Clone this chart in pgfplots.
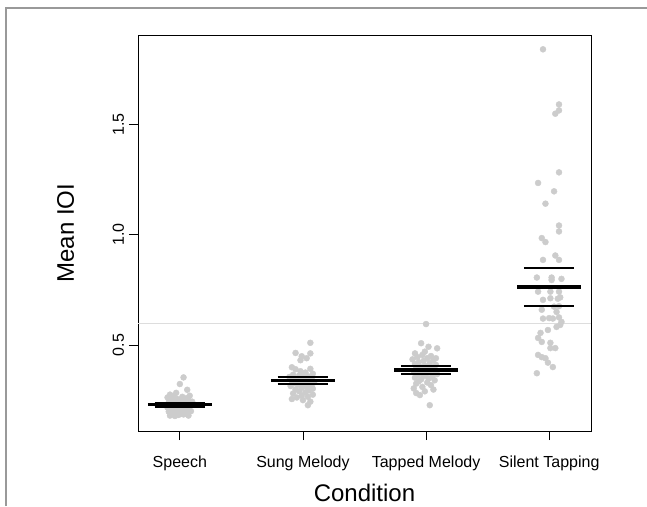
\documentclass[border=0pt]{standalone}
\usepackage{fontspec}
\setmainfont{Liberation Sans}
\usepackage{pgfplots}
\pgfplotsset{compat=1.18}
\definecolor{dotgray}{HTML}{CCCCCC}
\definecolor{refgray}{HTML}{DDDDDD}
\definecolor{framegray}{HTML}{999999}
\begin{document}
\begin{tikzpicture}[x=1pt,y=1pt]
\useasboundingbox (0,0) rectangle (647,506);
\draw[framegray, line width=1.2pt] (6,0) -- (6,498) -- (647,498);
\begin{axis}[
    at={(138pt,75pt)}, anchor=south west,
    scale only axis, width=453pt, height=396pt,
    xmin=0.66, xmax=4.34, ymin=0.11, ymax=1.906,
    axis line style={black, line width=0.8pt},
    xtick={1,2,3,4},
    xticklabels={Speech, Sung Melody, Tapped Melody, Silent Tapping},
    ytick={0.5,1.0,1.5}, yticklabels={0.5,1.0,1.5},
    xtick pos=bottom, ytick pos=left,
    tick align=outside, major tick length=9pt,
    tick style={black, line width=0.8pt},
    tick label style={font=\fontsize{16}{19}\selectfont},
    xticklabel style={anchor=base, yshift=-27pt},
    yticklabel style={xshift=-5pt, rotate=90, anchor=base},
    xlabel={Condition}, ylabel={Mean IOI},
    label style={font=\fontsize{24}{28}\selectfont},
    xlabel style={at={(axis description cs:0.5,-0.1768)}, anchor=base},
    ylabel style={at={(axis description cs:-0.1413,0.5)}, anchor=base},
    clip=false, clip marker paths=true,
]
% reference line at 0.6
\addplot[refgray, line width=0.8pt] coordinates {(0.66,0.6)(4.34,0.6)};

% individual means (jittered)
\addplot[only marks, mark=*, mark size=3pt, dotgray, mark options={draw=none, fill=dotgray}] coordinates {
 (1.03,0.353)(1.00,0.323)(1.06,0.297)(0.97,0.283)(0.92,0.275)(1.08,0.270)(0.95,0.268)(1.02,0.265)
 (0.90,0.262)(1.05,0.258)(0.98,0.255)(0.93,0.252)(1.07,0.250)(1.01,0.247)(0.96,0.245)(1.10,0.243)
 (0.91,0.240)(1.04,0.238)(0.99,0.236)(0.94,0.234)(1.06,0.232)(1.02,0.230)(0.97,0.228)(0.92,0.226)
 (1.08,0.224)(1.00,0.222)(0.95,0.220)(1.04,0.218)(0.90,0.216)(1.07,0.214)(0.98,0.212)(1.02,0.210)
 (0.93,0.208)(1.05,0.205)(0.96,0.203)(1.09,0.200)(0.91,0.198)(1.01,0.196)(0.97,0.193)(1.05,0.190)
 (0.94,0.188)(1.03,0.185)(0.99,0.183)(0.92,0.180)(1.07,0.180)(0.96,0.178)(1.02,0.188)(1.08,0.200)
};
\addplot[only marks, mark=*, mark size=3pt, dotgray, mark options={draw=none, fill=dotgray}] coordinates {
 (2.06,0.510)(1.94,0.464)(2.06,0.462)(1.99,0.449)(1.98,0.431)(2.03,0.440)(1.91,0.399)(2.06,0.392)
 (1.98,0.381)(1.94,0.390)(2.02,0.375)(2.08,0.370)(1.92,0.365)(1.97,0.362)(2.04,0.358)(1.89,0.355)
 (2.00,0.350)(2.07,0.347)(1.95,0.344)(2.02,0.341)(1.91,0.338)(2.05,0.335)(1.98,0.332)(2.09,0.330)
 (1.93,0.327)(2.01,0.324)(1.96,0.320)(2.06,0.317)(1.90,0.314)(2.03,0.310)(1.99,0.306)(2.08,0.302)
 (1.94,0.298)(2.05,0.294)(1.97,0.290)(2.02,0.285)(1.92,0.280)(2.08,0.275)(1.99,0.270)(2.04,0.265)
 (1.91,0.255)(2.00,0.250)(2.06,0.243)(2.04,0.227)(1.95,0.262)(2.07,0.310)(1.93,0.345)(2.01,0.360)
};
\addplot[only marks, mark=*, mark size=3pt, dotgray, mark options={draw=none, fill=dotgray}] coordinates {
 (3.00,0.595)(2.96,0.508)(3.02,0.492)(3.09,0.485)(2.91,0.462)(2.97,0.455)(3.04,0.450)(2.93,0.445)
 (3.01,0.440)(2.89,0.435)(3.06,0.432)(2.98,0.428)(2.94,0.422)(3.03,0.418)(2.91,0.414)(3.08,0.410)
 (2.99,0.406)(2.95,0.402)(3.05,0.398)(2.92,0.395)(3.01,0.392)(2.97,0.388)(3.07,0.385)(2.90,0.382)
 (3.03,0.378)(2.95,0.375)(3.00,0.371)(3.09,0.368)(2.93,0.364)(2.98,0.360)(3.05,0.356)(2.91,0.352)
 (3.02,0.348)(2.96,0.344)(3.07,0.340)(2.94,0.335)(3.01,0.330)(2.92,0.325)(3.04,0.318)(2.97,0.310)
 (2.90,0.303)(3.06,0.298)(2.99,0.290)(2.95,0.273)(3.03,0.227)(2.92,0.282)(3.08,0.440)(2.99,0.470)
};
\addplot[only marks, mark=*, mark size=3pt, dotgray, mark options={draw=none, fill=dotgray}] coordinates {
 (3.95,1.841)(4.08,1.591)(4.08,1.564)(4.05,1.549)(4.08,1.283)(3.91,1.235)(4.04,1.197)(3.97,1.141)
 (4.08,1.042)(4.08,1.015)(3.94,0.985)(3.97,0.967)(4.05,0.906)(4.08,0.886)(3.95,0.886)(3.90,0.806)
 (4.02,0.806)(4.02,0.795)(4.10,0.800)(3.91,0.742)(4.01,0.742)(4.08,0.742)(3.95,0.705)(4.01,0.712)
 (4.07,0.710)(4.09,0.716)(4.04,0.674)(4.08,0.676)(3.94,0.660)(4.06,0.650)(3.95,0.620)(4.00,0.622)
 (4.03,0.620)(4.08,0.625)(4.10,0.605)(4.09,0.591)(4.06,0.582)(3.99,0.568)(3.93,0.555)(3.91,0.532)
 (3.94,0.514)(4.01,0.510)(4.05,0.486)(4.01,0.486)(3.91,0.455)(3.94,0.445)(3.97,0.440)(3.99,0.420)
 (4.03,0.400)(3.90,0.372)
};

% group means (thick) and confidence limits
\addplot[black, line width=2pt] coordinates {(0.795,0.239)(1.205,0.239)};
\addplot[black, line width=2pt] coordinates {(0.795,0.221)(1.205,0.221)};
\addplot[black, line width=2pt] coordinates {(1.795,0.353)(2.205,0.353)};
\addplot[black, line width=2pt] coordinates {(1.795,0.321)(2.205,0.321)};
\addplot[black, line width=2pt] coordinates {(2.795,0.405)(3.205,0.405)};
\addplot[black, line width=2pt] coordinates {(2.795,0.368)(3.205,0.368)};
\addplot[black, line width=2pt] coordinates {(3.795,0.849)(4.205,0.849)};
\addplot[black, line width=2pt] coordinates {(3.795,0.679)(4.205,0.679)};
\addplot[black, line width=3.5pt] coordinates {(0.74,0.230)(1.26,0.230)};
\addplot[black, line width=3.5pt] coordinates {(1.74,0.338)(2.26,0.338)};
\addplot[black, line width=3.5pt] coordinates {(2.74,0.386)(3.26,0.386)};
\addplot[black, line width=3.5pt] coordinates {(3.74,0.764)(4.26,0.764)};
\end{axis}
\end{tikzpicture}
\end{document}
